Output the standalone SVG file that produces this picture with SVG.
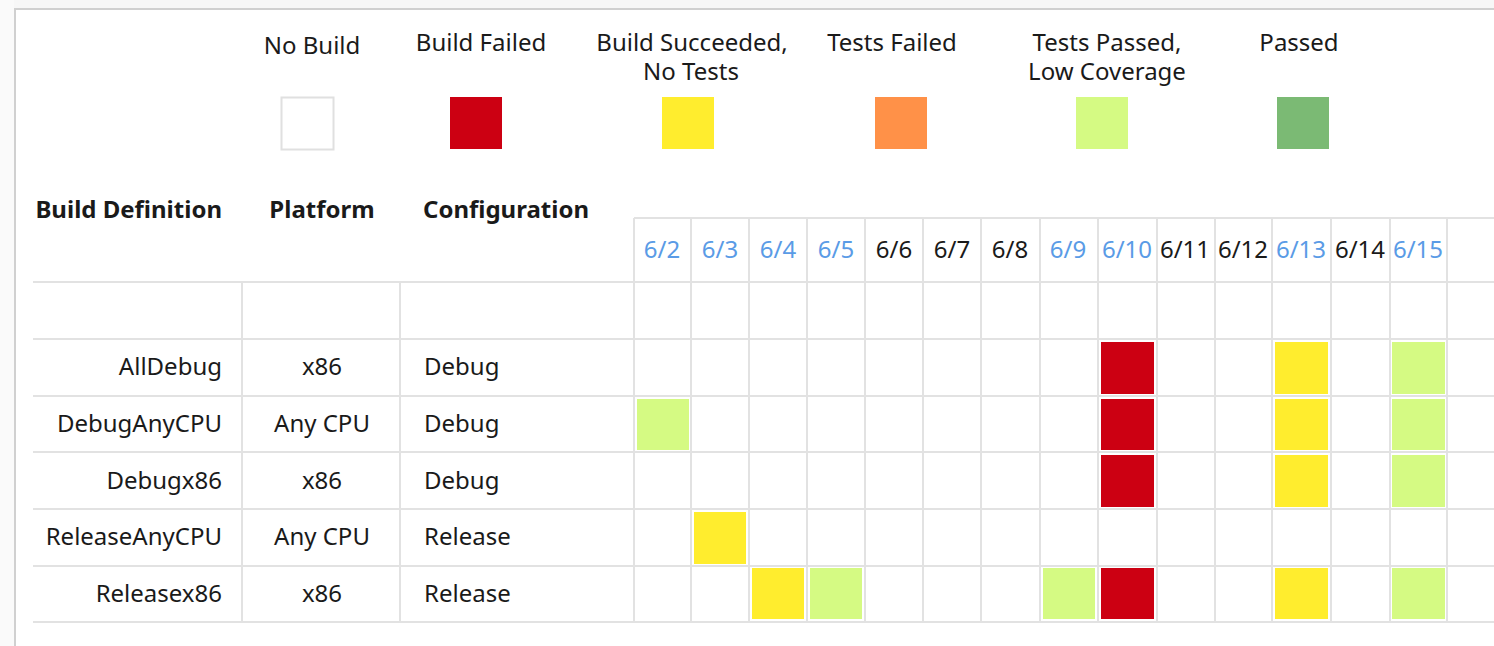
<svg xmlns="http://www.w3.org/2000/svg" width="1494" height="646" viewBox="0 0 1494 646">
<style>
text{font-family:"Noto Sans","Open Sans","Liberation Sans",sans-serif;font-size:24px;fill:#1a1a1a}
.b{font-weight:bold}
.c{text-anchor:middle}
.e{text-anchor:end}
.blue{fill:#5a9be6}
.g{stroke:#e2e2e2;stroke-width:2;fill:none}
.frame{stroke:#d0d0d0;stroke-width:2;fill:none}
.red{fill:#cc0012}
.yel{fill:#ffed2e}
.org{fill:#ff9148}
.lg{fill:#d5fa83}
.grn{fill:#7bba74}
</style>
<rect width="1494" height="646" fill="#ffffff"/>
<rect x="0" y="0" width="1494" height="8" fill="#f7f7f7"/>
<rect x="0" y="0" width="14" height="646" fill="#fafafa"/>
<path class="frame" d="M15,646 V9 H1494"/>

<g id="legend">
  <g id="legend-nobuild">
    <text class="c" x="312" y="54">No Build</text>
    <rect x="281.5" y="97.5" width="52" height="52" fill="#ffffff" stroke="#e0e0e0" stroke-width="2"/>
  </g>
  <g id="legend-buildfailed">
    <text class="c" x="481" y="51">Build Failed</text>
    <rect class="red" x="450" y="97" width="52" height="52"/>
  </g>
  <g id="legend-nobuildtests">
    <text class="c" x="692" y="51">Build Succeeded,</text>
    <text class="c" x="691" y="80">No Tests</text>
    <rect class="yel" x="662" y="97" width="52" height="52"/>
  </g>
  <g id="legend-testsfailed">
    <text class="c" x="892" y="51">Tests Failed</text>
    <rect class="org" x="875" y="97" width="52" height="52"/>
  </g>
  <g id="legend-lowcoverage">
    <text class="c" x="1107" y="51">Tests Passed,</text>
    <text class="c" x="1107" y="80">Low Coverage</text>
    <rect class="lg" x="1076" y="97" width="52" height="52"/>
  </g>
  <g id="legend-passed">
    <text class="c" x="1299" y="51">Passed</text>
    <rect class="grn" x="1277" y="97" width="52" height="52"/>
  </g>
</g>

<g id="grid">
  <path class="g" d="M634,218 H1494 M33,282 H1494 M33,339 H1494 M33,396 H1494 M33,452 H1494 M33,509 H1494 M33,566 H1494 M33,622 H1494"/>
  <path class="g" d="M242,282 V622 M400,282 V622"/>
  <path class="g" d="M634,218 V622 M691,218 V622 M749,218 V622 M807,218 V622 M865,218 V622 M923,218 V622 M981,218 V622 M1040,218 V622 M1098,218 V622 M1157,218 V622 M1215,218 V622 M1272,218 V622 M1331,218 V622 M1390,218 V622 M1447,218 V622"/>
</g>

<g id="header">
  <text class="b e" x="222" y="218">Build Definition</text>
  <text class="b c" x="322" y="218">Platform</text>
  <text class="b" x="423" y="218">Configuration</text>
</g>

<g id="dates">
  <text class="c blue" x="662" y="258">6/2</text>
  <text class="c blue" x="720" y="258">6/3</text>
  <text class="c blue" x="778" y="258">6/4</text>
  <text class="c blue" x="836" y="258">6/5</text>
  <text class="c" x="894" y="258">6/6</text>
  <text class="c" x="952" y="258">6/7</text>
  <text class="c" x="1010" y="258">6/8</text>
  <text class="c blue" x="1068" y="258">6/9</text>
  <text class="c blue" x="1127" y="258">6/10</text>
  <text class="c" x="1185" y="258">6/11</text>
  <text class="c" x="1243" y="258">6/12</text>
  <text class="c blue" x="1301" y="258">6/13</text>
  <text class="c" x="1360" y="258">6/14</text>
  <text class="c blue" x="1418" y="258">6/15</text>
</g>

<g id="row-alldebug">
  <text class="e" x="222" y="375">AllDebug</text>
  <text class="c" x="322" y="375">x86</text>
  <text x="424" y="375">Debug</text>
  <rect class="red" x="1101" y="342" width="53" height="52"/>
  <rect class="yel" x="1275" y="342" width="53" height="52"/>
  <rect class="lg" x="1392" y="342" width="53" height="52"/>
</g>
<g id="row-debuganycpu">
  <text class="e" x="222" y="432">DebugAnyCPU</text>
  <text class="c" x="322" y="432">Any CPU</text>
  <text x="424" y="432">Debug</text>
  <rect class="lg" x="637" y="399" width="52" height="51"/>
  <rect class="red" x="1101" y="399" width="53" height="51"/>
  <rect class="yel" x="1275" y="399" width="53" height="51"/>
  <rect class="lg" x="1392" y="399" width="53" height="51"/>
</g>
<g id="row-debugx86">
  <text class="e" x="222" y="489">Debugx86</text>
  <text class="c" x="322" y="489">x86</text>
  <text x="424" y="489">Debug</text>
  <rect class="red" x="1101" y="455" width="53" height="52"/>
  <rect class="yel" x="1275" y="455" width="53" height="52"/>
  <rect class="lg" x="1392" y="455" width="53" height="52"/>
</g>
<g id="row-releaseanycpu">
  <text class="e" x="222" y="545">ReleaseAnyCPU</text>
  <text class="c" x="322" y="545">Any CPU</text>
  <text x="424" y="545">Release</text>
  <rect class="yel" x="694" y="512" width="52" height="52"/>
</g>
<g id="row-releasex86">
  <text class="e" x="222" y="602">Releasex86</text>
  <text class="c" x="322" y="602">x86</text>
  <text x="424" y="602">Release</text>
  <rect class="yel" x="752" y="568" width="52" height="51"/>
  <rect class="lg" x="810" y="568" width="52" height="51"/>
  <rect class="lg" x="1043" y="568" width="52" height="51"/>
  <rect class="red" x="1101" y="568" width="53" height="51"/>
  <rect class="yel" x="1275" y="568" width="53" height="51"/>
  <rect class="lg" x="1392" y="568" width="53" height="51"/>
</g>
</svg>
